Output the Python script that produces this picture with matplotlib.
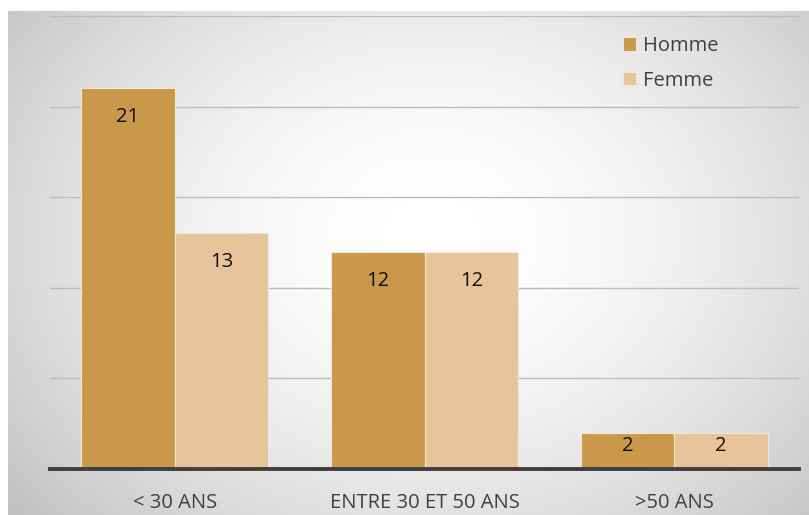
import numpy as np
import matplotlib
matplotlib.use("Agg")
import matplotlib.pyplot as plt

categories = ["< 30 ANS", "ENTRE 30 ET 50 ANS", ">50 ANS"]
series_names = ["Homme", "Femme"]
homme = [21, 12, 2]
femme = [13, 12, 2]

colors = ["#C9984A", "#E8C49A"]
font = ["Open Sans", "DejaVu Sans"]

W, H = 809, 515
fig = plt.figure(figsize=(W / 100, H / 100), dpi=100)
fig.patch.set_facecolor("white")

# gradient background panel
bg = fig.add_axes([8 / W, 0, 1 - 8 / W, 1 - 11 / H], zorder=0)
yy, xx = np.mgrid[0:1:300j, 0:1:500j]
cx, cy = 0.53, 0.55
r = np.sqrt(((xx - cx) / 0.64) ** 2 + ((yy - cy) / 0.8) ** 2)
val = 1.0 - 0.22 * np.clip(r, 0, 1.2) ** 1.7
bg.imshow(val, cmap="gray", vmin=0, vmax=1, extent=[0, 1, 0, 1], aspect="auto", origin="lower")
bg.axis("off")

left, right = 50 / W, 799 / W
bottom = (H - 469) / H
top_px = 16
ax = fig.add_axes([left, bottom, right - left, (469 - top_px) / H], zorder=1)
ax.set_facecolor("none")

x = np.arange(len(categories))
bw = 0.375
vals = [homme, femme]
for i, (name, v) in enumerate(zip(series_names, vals)):
    offs = (i - 0.5) * bw
    bars = ax.bar(x + offs, v, width=bw, color=colors[i], edgecolor="#F3E6D2",
                  linewidth=0.8, label=name, zorder=3)
    for b, value in zip(bars, v):
        px_h = value * (469 - top_px) / 25
        off = min(29, 0.36 * px_h)
        ax.annotate(str(value), (b.get_x() + b.get_width() / 2, value),
                    xytext=(0, -off), textcoords="offset pixels",
                    ha="center", va="center", fontsize=14.5, color="#111111",
                    family=font, zorder=4)

ax.set_xlim(-0.5, 2.5)
ax.set_ylim(0, 25)
ax.set_yticks([5, 10, 15, 20, 25])
ax.yaxis.grid(True, color="#BDBDBD", linewidth=1.0, zorder=1)
ax.tick_params(axis="y", left=False, labelleft=False)
ax.set_xticks(x)
ax.set_xticklabels(categories, family=font, fontsize=14.5, color="#404040")
ax.tick_params(axis="x", length=0, pad=17.5)
for s in ["top", "right", "left"]:
    ax.spines[s].set_visible(False)
ax.spines["bottom"].set_color("#3F3F3F")
ax.spines["bottom"].set_linewidth(2.8)
ax.spines["bottom"].set_zorder(5)

leg = ax.legend(loc="upper left", bbox_to_anchor=(605 / W, 1 - 18 / H), bbox_transform=fig.transFigure,
                frameon=False, prop={"family": font, "size": 14.5}, labelcolor="#404040",
                handlelength=0.65, handleheight=0.65, handletextpad=0.35, labelspacing=0.72)

fig.savefig("out.png", dpi=100)
